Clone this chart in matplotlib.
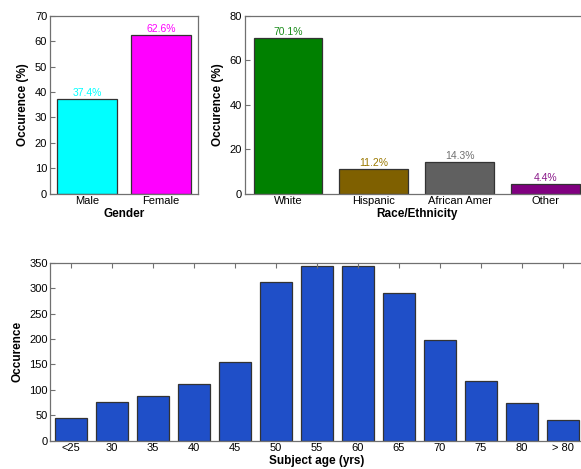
import matplotlib
matplotlib.use("Agg")
import matplotlib.pyplot as plt

plt.rcParams["font.family"] = ["Liberation Sans", "DejaVu Sans"]

GENDER = ["Male", "Female"]
GENDER_PCT = [37.4, 62.6]
GENDER_COLORS = ["#00ffff", "#ff00ff"]

RACE = ["White", "Hispanic", "African Amer", "Other"]
RACE_PCT = [70.1, 11.2, 14.3, 4.4]
RACE_COLORS = ["#008000", "#7f6000", "#606060", "#800080"]
RACE_TEXT = ["#1a8c1a", "#9a7800", "#707070", "#8a1a8a"]

AGE_LABELS = ["<25", "30", "35", "40", "45", "50", "55", "60", "65", "70", "75", "80", "> 80"]
AGE_COUNTS = [44, 77, 87, 112, 154, 312, 343, 344, 291, 199, 118, 75, 40]

SPINE = "#707070"
EDGE = "#333333"


def style(ax, top_ticks=False):
    for s in ax.spines.values():
        s.set_color(SPINE)
        s.set_linewidth(0.9)
    ax.tick_params(axis="both", direction="in", length=3.5, width=0.8,
                   color=SPINE, labelsize=8, pad=2)
    ax.tick_params(axis="x", length=0 if not top_ticks else 3.5, top=top_ticks)
    ax.tick_params(axis="y", right=False)


fig = plt.figure(figsize=(5.81, 4.69), dpi=100)

# gender
ax1 = fig.add_axes([0.0861, 0.5874, 0.2547, 0.3785])
x1 = range(1, len(GENDER) + 1)
ax1.bar(x1, GENDER_PCT, width=0.8, color=GENDER_COLORS, edgecolor=EDGE, linewidth=0.9)
for x, v, c in zip(x1, GENDER_PCT, GENDER_COLORS):
    ax1.text(x, v + 0.3, f"{v:.1f}%", ha="center", va="bottom", fontsize=7.5, color=c)
ax1.set_xlim(0.5, 2.5)
ax1.set_ylim(0, 70)
ax1.set_yticks(range(0, 71, 10))
ax1.set_xticks(list(x1))
ax1.set_xticklabels(GENDER)
ax1.set_xlabel("Gender", fontsize=8.5, fontweight="bold", labelpad=1.5)
ax1.set_ylabel("Occurence (%)", fontsize=8.5, fontweight="bold", labelpad=4)
style(ax1)

# race / ethnicity
ax2 = fig.add_axes([0.4217, 0.5874, 0.5912, 0.3785])
x2 = range(1, len(RACE) + 1)
ax2.bar(x2, RACE_PCT, width=0.8, color=RACE_COLORS, edgecolor=EDGE, linewidth=0.9)
for x, v, c in zip(x2, RACE_PCT, RACE_TEXT):
    ax2.text(x, v + 0.3, f"{v:.1f}%", ha="center", va="bottom", fontsize=7.5, color=c)
ax2.set_xlim(0.5, 4.5)
ax2.set_ylim(0, 80)
ax2.set_yticks(range(0, 81, 20))
ax2.set_xticks(list(x2))
ax2.set_xticklabels(RACE)
ax2.set_xlabel("Race/Ethnicity", fontsize=8.5, fontweight="bold", labelpad=1.5)
ax2.set_ylabel("Occurence (%)", fontsize=8.5, fontweight="bold", labelpad=4)
style(ax2)

# subject age
ax3 = fig.add_axes([0.0869, 0.0603, 0.9174, 0.3795])
x3 = range(1, len(AGE_LABELS) + 1)
ax3.bar(x3, AGE_COUNTS, width=0.8, color="#1f4fc8", edgecolor=EDGE, linewidth=0.9)
ax3.set_xlim(0.5, 13.5)
ax3.set_ylim(0, 350)
ax3.set_yticks(range(0, 351, 50))
ax3.set_xticks(list(x3))
ax3.set_xticklabels(AGE_LABELS)
ax3.set_xlabel("Subject age (yrs)", fontsize=8.5, fontweight="bold", labelpad=1)
ax3.set_ylabel("Occurence", fontsize=8.5, fontweight="bold", labelpad=4)
style(ax3, top_ticks=True)
ax3.tick_params(axis="x", bottom=False, labelbottom=True)

fig.savefig("out.png", dpi=100)
